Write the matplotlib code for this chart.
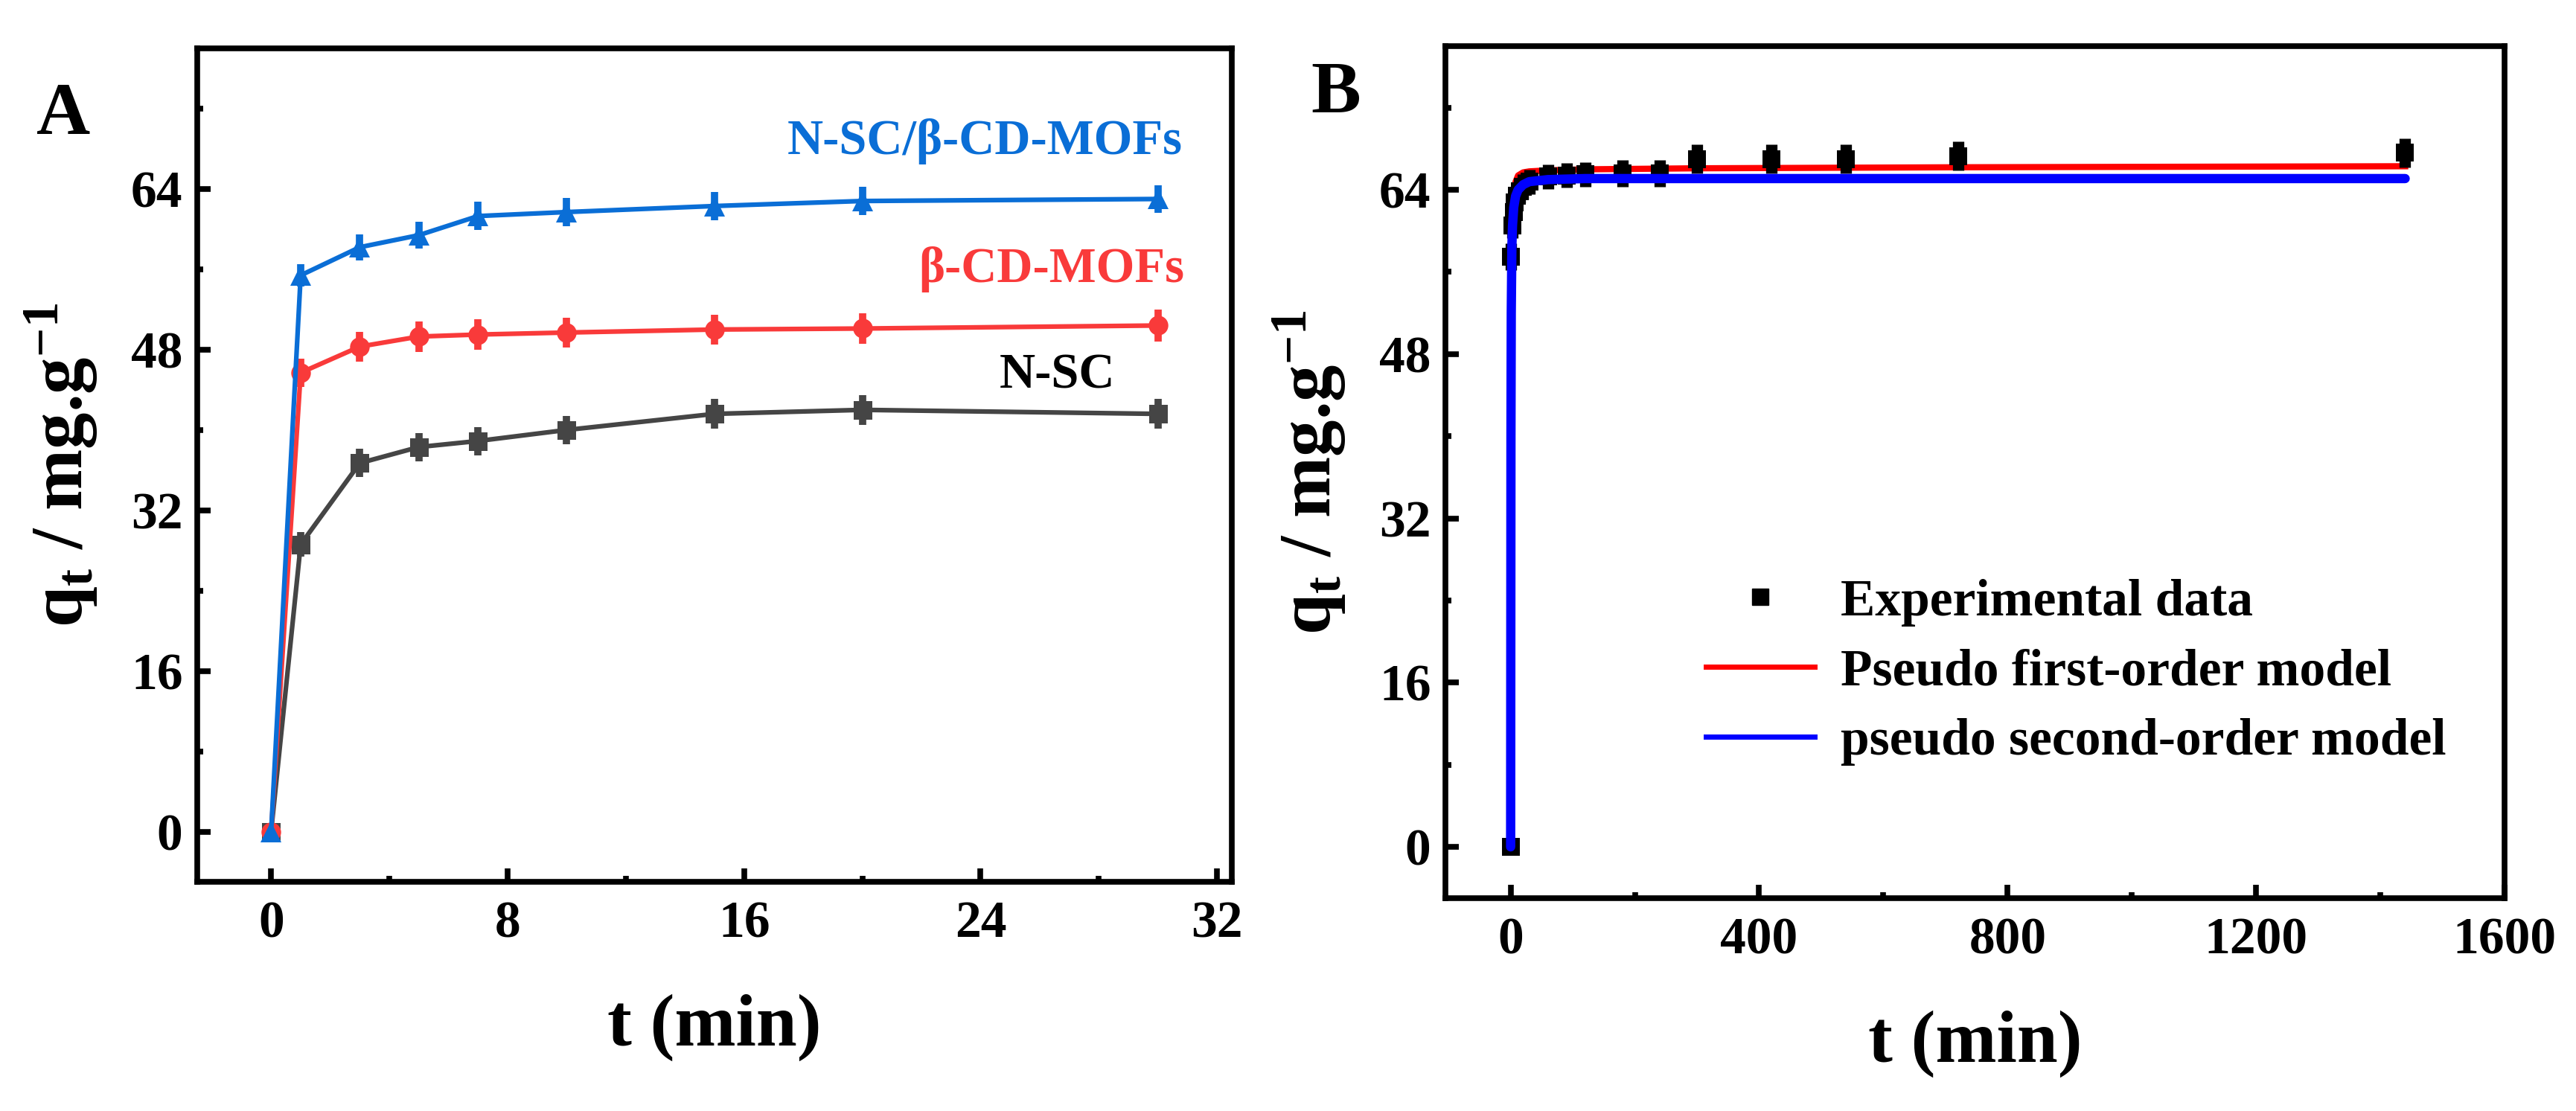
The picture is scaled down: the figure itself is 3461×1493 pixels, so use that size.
import matplotlib
matplotlib.use('Agg')
import matplotlib.pyplot as plt
from matplotlib.lines import Line2D
from matplotlib.ticker import MultipleLocator

plt.rcParams['font.family'] = ['Liberation Serif', 'DejaVu Serif']
plt.rcParams['font.weight'] = 'bold'
plt.rcParams['mathtext.fontset'] = 'custom'
plt.rcParams['mathtext.rm'] = 'Liberation Serif:weight=bold'
plt.rcParams['mathtext.it'] = 'Liberation Serif:weight=bold'
plt.rcParams['mathtext.bf'] = 'Liberation Serif:weight=bold'

# ---------------- Panel A data ----------------
t_a = [0, 1, 3, 5, 7, 10, 15, 20, 30]
q_nsc = [0, 28.6, 36.7, 38.3, 38.9, 40.0, 41.6, 42.0, 41.6]
err_nsc = [0.3, 1.2, 1.4, 1.4, 1.4, 1.4, 1.5, 1.5, 1.5]
q_cd = [0, 45.7, 48.3, 49.3, 49.5, 49.7, 50.0, 50.1, 50.4]
err_cd = [0.3, 1.4, 1.5, 1.5, 1.5, 1.5, 1.5, 1.5, 1.6]
q_comp = [0, 55.4, 58.2, 59.4, 61.3, 61.7, 62.3, 62.8, 63.0]
err_comp = [0.3, 1.1, 1.3, 1.3, 1.4, 1.4, 1.4, 1.4, 1.4]
labels_a = ['N-SC', 'β-CD-MOFs', 'N-SC/β-CD-MOFs']

# ---------------- Panel B data ----------------
t_b = [0, 1, 3, 5, 7, 10, 15, 20, 30, 60, 90, 120, 180, 240, 300, 420, 540, 720, 1440]
q_b = [0, 57.5, 60.5, 61.8, 62.8, 63.4, 63.9, 64.3, 64.8, 65.3, 65.4, 65.5,
       65.6, 65.6, 67.0, 67.0, 67.0, 67.3, 67.6]
err_b = [0.3, 1.3, 1.2, 1.2, 1.2, 1.2, 1.2, 1.2, 1.2, 1.2, 1.2, 1.2,
         1.3, 1.3, 1.4, 1.4, 1.4, 1.4, 1.4]
t_fit = [0, 0.5, 1, 2, 3, 5, 8, 12, 20, 30, 60, 120, 300, 720, 1440]
q_pfo = [0, 38, 52, 59, 61.5, 63.5, 64.8, 65.4, 65.7, 65.8, 65.9, 66.0, 66.1, 66.2, 66.3]
q_pso = [0, 40, 52, 58.5, 60.5, 62.3, 63.4, 64.0, 64.5, 64.8, 65.0, 65.1, 65.1, 65.1, 65.1]
labels_b = ['Experimental data', 'Pseudo first-order model', 'pseudo second-order model']

C_GRAY = '#454545'
C_RED = '#F93A3A'
C_BLUE = '#0A6ED6'

W, H = 3461, 1493
fig = plt.figure(figsize=(W / 100, H / 100), dpi=100)

axA = fig.add_axes([265 / W, 1 - 1185 / H, (1655 - 265) / W, (1185 - 65) / H])
axB = fig.add_axes([1942 / W, 1 - 1207 / H, (3365 - 1942) / W, (1207 - 62) / H])

SP = 5.5
TICKFS = 50
LABFS = 71
YLABEL = r'q$_{\rm t}$ / mg.g$^{-1}$'


def style(ax):
    for s in ax.spines.values():
        s.set_linewidth(SP)
    ax.tick_params(which='both', direction='in', top=False, right=False,
                   width=SP, labelsize=TICKFS)
    ax.tick_params(which='major', length=13)
    ax.tick_params(which='minor', length=6)
    ax.tick_params(axis='x', pad=18)
    ax.tick_params(axis='y', pad=14)
    for lab in ax.get_xticklabels() + ax.get_yticklabels():
        lab.set_fontweight('bold')


# ---------------- Panel A ----------------
series = [
    (q_nsc, err_nsc, C_GRAY, 's', 18),
    (q_cd, err_cd, C_RED, 'o', 19),
    (q_comp, err_comp, C_BLUE, '^', 20),
]
for q, e, c, m, ms in series:
    axA.errorbar(t_a, q, yerr=e, color=c, marker=m, markersize=ms,
                 linewidth=4.5, elinewidth=7, capsize=22, capthick=6,
                 markeredgewidth=0)

axA.set_xlim(-2.5, 32.5)
axA.set_ylim(-5, 78)
axA.xaxis.set_major_locator(MultipleLocator(8))
axA.xaxis.set_minor_locator(MultipleLocator(4))
axA.yaxis.set_major_locator(MultipleLocator(16))
axA.yaxis.set_minor_locator(MultipleLocator(8))
style(axA)
axA.set_xlabel('t (min)', fontsize=LABFS, fontweight='bold', labelpad=44)
axA.set_ylabel(YLABEL, fontsize=LABFS, fontweight='heavy', labelpad=30)

axA.text(30.84, 67.5, labels_a[2], color=C_BLUE, fontsize=48, fontweight='bold',
         ha='right', va='baseline')
axA.text(30.9, 54.7, labels_a[1], color=C_RED, fontsize=48, fontweight='bold',
         ha='right', va='baseline')
axA.text(26.6, 44.2, labels_a[0], color='black', fontsize=48, fontweight='bold',
         ha='center', va='baseline')

# ---------------- Panel B ----------------
axB.plot(t_fit, q_pfo, color='#FF0000', linewidth=6, zorder=2)
axB.errorbar(t_b, q_b, yerr=err_b, color='black', marker='s', markersize=17,
             linestyle='none', elinewidth=11, capsize=23, capthick=6,
             markeredgewidth=0, zorder=3)
axB.plot(t_fit, q_pso, color='#0000FF', linewidth=9, zorder=4,
         solid_capstyle='round')

axB.set_xlim(-105, 1600)
axB.set_ylim(-5, 78)
axB.xaxis.set_major_locator(MultipleLocator(400))
axB.xaxis.set_minor_locator(MultipleLocator(200))
axB.yaxis.set_major_locator(MultipleLocator(16))
axB.yaxis.set_minor_locator(MultipleLocator(8))
style(axB)
axB.set_xlabel('t (min)', fontsize=LABFS, fontweight='bold', labelpad=44)
axB.set_ylabel(YLABEL, fontsize=LABFS, fontweight='heavy', labelpad=30)

handles = [
    Line2D([], [], marker='s', color='black', linestyle='none', markersize=16),
    Line2D([], [], color='#FF0000', linewidth=5),
    Line2D([], [], color='#0000FF', linewidth=5),
]
axB.legend(handles, labels_b, loc='upper left', bbox_to_anchor=(0.246, 0.375),
           frameon=False, handlelength=2.1, handletextpad=0.5,
           labelspacing=0.43, borderpad=0, borderaxespad=0,
           prop={'weight': 'bold', 'size': 50})

fig.text(49 / W, 1 - 180 / H, 'A', fontsize=72, fontweight='bold', va='baseline')
fig.text(1761 / W, 1 - 150 / H, 'B', fontsize=72, fontweight='bold', va='baseline')

fig.savefig('out.png', dpi=100)
